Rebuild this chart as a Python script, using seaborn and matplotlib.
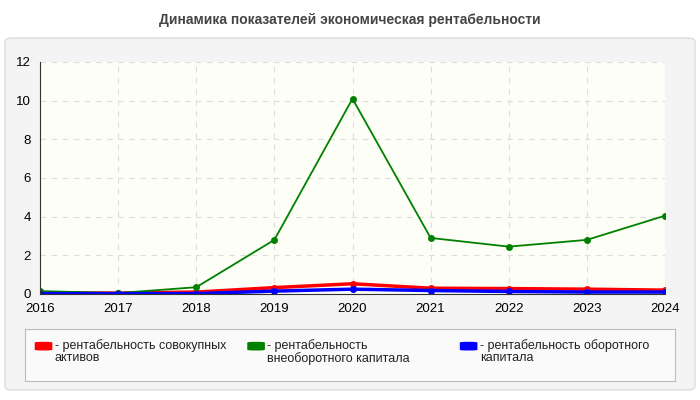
import matplotlib
matplotlib.use("Agg")
import matplotlib.pyplot as plt
import seaborn as sns
import pandas as pd
from matplotlib.patches import FancyBboxPatch

years = [2016, 2017, 2018, 2019, 2020, 2021, 2022, 2023, 2024]
red = [0.05, 0.05, 0.1, 0.33, 0.53, 0.3, 0.28, 0.25, 0.2]
green = [0.15, 0.05, 0.35, 2.8, 10.1, 2.9, 2.45, 2.8, 4.05]
blue = [0.02, 0.02, 0.02, 0.15, 0.25, 0.18, 0.13, 0.1, 0.1]
names = ["- рентабельность совокупных\nактивов",
         "- рентабельность\nвнеоборотного капитала",
         "- рентабельность оборотного\nкапитала"]
colors = ["#ff0000", "#008000", "#0000ff"]

sns.set_style("white")
plt.rcParams['font.family'] = ['Liberation Sans', 'DejaVu Sans']
fig = plt.figure(figsize=(7, 4), dpi=100)
fig.patch.set_facecolor("white")
fig.patches.append(FancyBboxPatch((5/700, 10/400), 690/700, 352/400, boxstyle="round,pad=0,rounding_size=0.01",
                                  transform=fig.transFigure, facecolor="#f4f4f4", edgecolor="#dddddd", zorder=-5))
fig.text(0.5, 1 - 20/400, "Динамика показателей экономическая рентабельности", ha="center", va="center",
         fontsize=10, fontweight="bold", color="#444444")
ax = fig.add_axes([40/700, 1 - 294/400, 625/700, 232/400])
ax.set_facecolor("#fdfef5")
df = pd.DataFrame({"year": years * 3, "v": red + green + blue,
                   "s": sum([[n] * len(years) for n in names], [])})
sns.lineplot(data=df, x="year", y="v", hue="s", palette=colors, marker="o", markersize=5,
             markeredgewidth=0, linewidth=1.3, ax=ax, legend=False)
for line, lw in zip(ax.lines, [2.5, 1.3, 2.5]):
    line.set_linewidth(lw)
ax.set_xlim(2016, 2024)
ax.set_ylim(0, 12)
ax.set_xticks(years)
ax.set_yticks(range(0, 13, 2))
ax.tick_params(labelsize=9.5, length=3, colors="#000000")
ax.grid(True, linestyle=(0, (5, 5)), color="#dddddd")
ax.set_xlabel("")
ax.set_ylabel("")
for s in ["top", "right"]:
    ax.spines[s].set_visible(False)
for s in ["left", "bottom"]:
    ax.spines[s].set_color("#333333")

lax = fig.add_axes([25/700, 1 - 381/400, 650/700, 52/400])
lax.set_facecolor("#fafafa")
lax.set_xticks([]); lax.set_yticks([])
for s in lax.spines.values():
    s.set_color("#bbbbbb")
for i, (n, c) in enumerate(zip(names, colors)):
    x0 = 0.016 + i * 0.327
    lax.add_patch(FancyBboxPatch((x0, 0.6), 0.025, 0.14, boxstyle="round,pad=0,rounding_size=0.01",
                                 transform=lax.transAxes, facecolor=c, edgecolor=c))
    lax.text(x0 + 0.03, 0.8, n, transform=lax.transAxes, fontsize=9, va="top", color="#222222",
             linespacing=0.95)
fig.savefig("out.png", dpi=100)
